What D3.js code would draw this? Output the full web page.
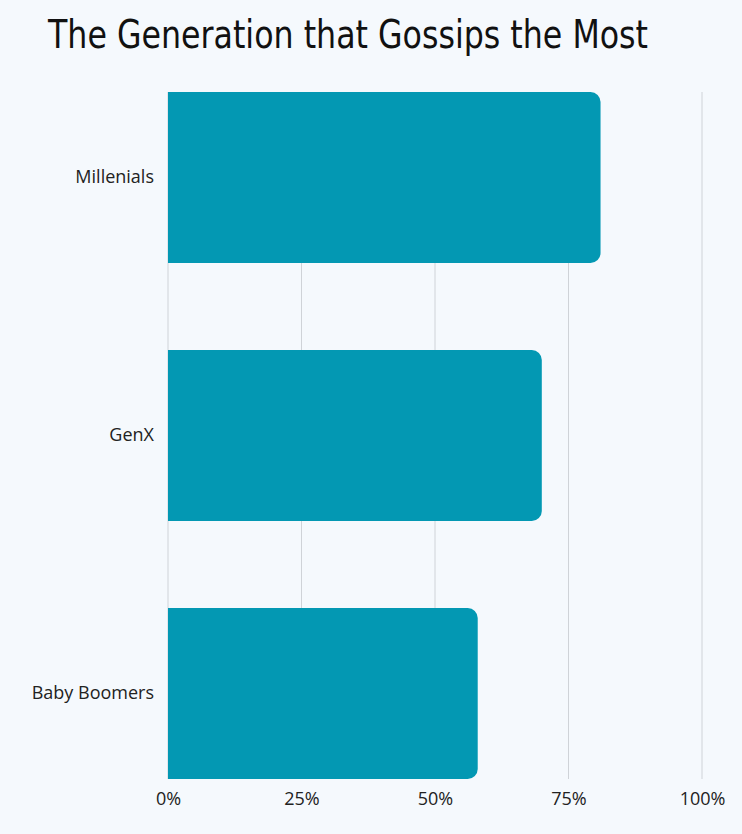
<!DOCTYPE html>
<html>
<head>
<meta charset="utf-8">
<script src="https://cdn.jsdelivr.net/npm/d3@7"></script>
<style>
  html, body { margin: 0; padding: 0; background: #f5f9fd; }
  svg { display: block; }
</style>
</head>
<body>
<svg id="chart" width="742" height="834"></svg>
<script>
const generations = ['Millenials', 'GenX', 'Baby Boomers']
const shares = [81, 70, 58]
const ticks = [0, 25, 50, 75, 100]

const width = 742, height = 834
const margin = { top: 92, right: 40, bottom: 55, left: 168 }
const svg = d3.select('#chart')

svg.append('rect').attr('width', width).attr('height', height).attr('fill', '#f5f9fd')

svg.append('text')
    .attr('x', 48)
    .attr('y', 48)
    .attr('textLength', 600)
    .attr('lengthAdjust', 'spacingAndGlyphs')
    .attr('font-family', '"Liberation Sans Narrow", "DejaVu Sans Condensed", sans-serif')
    .attr('font-size', 39)
    .attr('fill', '#111')
    .text('The Generation that Gossips the Most')

const x = d3.scaleLinear().domain([0, 100]).range([margin.left, 702])
const y = d3.scaleBand().domain(generations).range([margin.top, height - margin.bottom])
    .paddingInner(0.337).paddingOuter(0)

// grid
svg.append('g').selectAll('line')
  .data(ticks)
  .join('line')
    .attr('x1', d => x(d)).attr('x2', d => x(d))
    .attr('y1', margin.top).attr('y2', height - margin.bottom)
    .attr('stroke', '#cfd3d8')
    .attr('stroke-width', 1)

// bars with rounded right end
const r = 10
const barPath = (x0, x1, y0, h) => {
  const p = d3.path()
  p.moveTo(x0, y0)
  p.lineTo(x1 - r, y0)
  p.arcTo(x1, y0, x1, y0 + r, r)
  p.lineTo(x1, y0 + h - r)
  p.arcTo(x1, y0 + h, x1 - r, y0 + h, r)
  p.lineTo(x0, y0 + h)
  p.closePath()
  return p.toString()
}

svg.append('g').selectAll('path')
  .data(generations)
  .join('path')
    .attr('d', (d, i) => barPath(x(0), x(shares[i]), y(d), y.bandwidth()))
    .attr('fill', '#0398b3')

// y labels
const yAxis = svg.append('g')
    .attr('transform', `translate(${margin.left},0)`)
    .call(d3.axisLeft(y).tickSize(0).tickPadding(14))
yAxis.select('.domain').remove()
yAxis.selectAll('text')
    .attr('font-family', '"Open Sans", "Noto Sans", sans-serif')
    .attr('font-size', 18)
    .attr('fill', '#222')

// x labels
const xAxis = svg.append('g')
    .attr('transform', `translate(0,${height - margin.bottom})`)
    .call(d3.axisBottom(x).tickValues(ticks).tickFormat(d => d + '%').tickSize(0).tickPadding(13))
xAxis.select('.domain').remove()
xAxis.selectAll('text')
    .attr('font-family', '"Open Sans", "Noto Sans", sans-serif')
    .attr('font-size', 18)
    .attr('fill', '#222')
</script>
</body>
</html>
